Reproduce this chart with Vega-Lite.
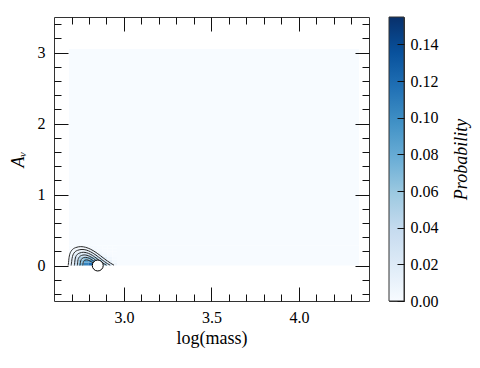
{
  "$schema": "https://vega.github.io/schema/vega-lite/v6.json",
  "background": "white",
  "padding": {"left": 8, "top": 15, "right": 5, "bottom": 5},
  "spacing": 20,
  "bounds": "flush",
  "config": {
    "view": {"stroke": "#333333", "strokeWidth": 1},
    "axis": {
      "grid": false,
      "domain": false,
      "labelFont": "Liberation Serif",
      "labelFontSize": 16,
      "labelColor": "#000000",
      "titleFont": "Liberation Serif",
      "titleFontSize": 18,
      "titleFontWeight": "normal",
      "titleColor": "#000000"
    }
  },
  "datasets": {
    "background": [
      {"x0": 2.686, "x1": 4.343, "y0": 0.28, "y1": 3.05, "p": 0},
      {"x0": 2.96, "x1": 4.343, "y0": 0, "y1": 0.28, "p": 0}
    ],
    "peak": [
      {"x0": 2.686, "x1": 2.713, "y0": 0, "y1": 0.04, "p": 0.014},
      {"x0": 2.713, "x1": 2.741, "y0": 0, "y1": 0.04, "p": 0.040},
      {"x0": 2.741, "x1": 2.768, "y0": 0, "y1": 0.04, "p": 0.075},
      {"x0": 2.768, "x1": 2.796, "y0": 0, "y1": 0.04, "p": 0.105},
      {"x0": 2.796, "x1": 2.823, "y0": 0, "y1": 0.04, "p": 0.120},
      {"x0": 2.823, "x1": 2.850, "y0": 0, "y1": 0.04, "p": 0.112},
      {"x0": 2.850, "x1": 2.878, "y0": 0, "y1": 0.04, "p": 0.088},
      {"x0": 2.878, "x1": 2.905, "y0": 0, "y1": 0.04, "p": 0.055},
      {"x0": 2.905, "x1": 2.933, "y0": 0, "y1": 0.04, "p": 0.025},
      {"x0": 2.933, "x1": 2.960, "y0": 0, "y1": 0.04, "p": 0.007},
      {"x0": 2.686, "x1": 2.713, "y0": 0.04, "y1": 0.08, "p": 0.011},
      {"x0": 2.713, "x1": 2.741, "y0": 0.04, "y1": 0.08, "p": 0.034},
      {"x0": 2.741, "x1": 2.768, "y0": 0.04, "y1": 0.08, "p": 0.064},
      {"x0": 2.768, "x1": 2.796, "y0": 0.04, "y1": 0.08, "p": 0.088},
      {"x0": 2.796, "x1": 2.823, "y0": 0.04, "y1": 0.08, "p": 0.096},
      {"x0": 2.823, "x1": 2.850, "y0": 0.04, "y1": 0.08, "p": 0.084},
      {"x0": 2.850, "x1": 2.878, "y0": 0.04, "y1": 0.08, "p": 0.058},
      {"x0": 2.878, "x1": 2.905, "y0": 0.04, "y1": 0.08, "p": 0.031},
      {"x0": 2.905, "x1": 2.933, "y0": 0.04, "y1": 0.08, "p": 0.012},
      {"x0": 2.933, "x1": 2.960, "y0": 0.04, "y1": 0.08, "p": 0.003},
      {"x0": 2.686, "x1": 2.713, "y0": 0.08, "y1": 0.12, "p": 0.008},
      {"x0": 2.713, "x1": 2.741, "y0": 0.08, "y1": 0.12, "p": 0.028},
      {"x0": 2.741, "x1": 2.768, "y0": 0.08, "y1": 0.12, "p": 0.052},
      {"x0": 2.768, "x1": 2.796, "y0": 0.08, "y1": 0.12, "p": 0.068},
      {"x0": 2.796, "x1": 2.823, "y0": 0.08, "y1": 0.12, "p": 0.068},
      {"x0": 2.823, "x1": 2.850, "y0": 0.08, "y1": 0.12, "p": 0.055},
      {"x0": 2.850, "x1": 2.878, "y0": 0.08, "y1": 0.12, "p": 0.032},
      {"x0": 2.878, "x1": 2.905, "y0": 0.08, "y1": 0.12, "p": 0.015},
      {"x0": 2.905, "x1": 2.933, "y0": 0.08, "y1": 0.12, "p": 0.005},
      {"x0": 2.933, "x1": 2.960, "y0": 0.08, "y1": 0.12, "p": 0.001},
      {"x0": 2.686, "x1": 2.713, "y0": 0.12, "y1": 0.16, "p": 0.005},
      {"x0": 2.713, "x1": 2.741, "y0": 0.12, "y1": 0.16, "p": 0.018},
      {"x0": 2.741, "x1": 2.768, "y0": 0.12, "y1": 0.16, "p": 0.032},
      {"x0": 2.768, "x1": 2.796, "y0": 0.12, "y1": 0.16, "p": 0.040},
      {"x0": 2.796, "x1": 2.823, "y0": 0.12, "y1": 0.16, "p": 0.036},
      {"x0": 2.823, "x1": 2.850, "y0": 0.12, "y1": 0.16, "p": 0.026},
      {"x0": 2.850, "x1": 2.878, "y0": 0.12, "y1": 0.16, "p": 0.012},
      {"x0": 2.878, "x1": 2.905, "y0": 0.12, "y1": 0.16, "p": 0.005},
      {"x0": 2.905, "x1": 2.933, "y0": 0.12, "y1": 0.16, "p": 0.001},
      {"x0": 2.933, "x1": 2.960, "y0": 0.12, "y1": 0.16, "p": 0},
      {"x0": 2.686, "x1": 2.713, "y0": 0.16, "y1": 0.20, "p": 0.003},
      {"x0": 2.713, "x1": 2.741, "y0": 0.16, "y1": 0.20, "p": 0.010},
      {"x0": 2.741, "x1": 2.768, "y0": 0.16, "y1": 0.20, "p": 0.018},
      {"x0": 2.768, "x1": 2.796, "y0": 0.16, "y1": 0.20, "p": 0.020},
      {"x0": 2.796, "x1": 2.823, "y0": 0.16, "y1": 0.20, "p": 0.015},
      {"x0": 2.823, "x1": 2.850, "y0": 0.16, "y1": 0.20, "p": 0.009},
      {"x0": 2.850, "x1": 2.878, "y0": 0.16, "y1": 0.20, "p": 0.004},
      {"x0": 2.878, "x1": 2.905, "y0": 0.16, "y1": 0.20, "p": 0.001},
      {"x0": 2.905, "x1": 2.933, "y0": 0.16, "y1": 0.20, "p": 0},
      {"x0": 2.933, "x1": 2.960, "y0": 0.16, "y1": 0.20, "p": 0},
      {"x0": 2.686, "x1": 2.713, "y0": 0.20, "y1": 0.24, "p": 0.001},
      {"x0": 2.713, "x1": 2.741, "y0": 0.20, "y1": 0.24, "p": 0.005},
      {"x0": 2.741, "x1": 2.768, "y0": 0.20, "y1": 0.24, "p": 0.008},
      {"x0": 2.768, "x1": 2.796, "y0": 0.20, "y1": 0.24, "p": 0.008},
      {"x0": 2.796, "x1": 2.823, "y0": 0.20, "y1": 0.24, "p": 0.006},
      {"x0": 2.823, "x1": 2.850, "y0": 0.20, "y1": 0.24, "p": 0.003},
      {"x0": 2.850, "x1": 2.878, "y0": 0.20, "y1": 0.24, "p": 0.001},
      {"x0": 2.878, "x1": 2.905, "y0": 0.20, "y1": 0.24, "p": 0},
      {"x0": 2.905, "x1": 2.933, "y0": 0.20, "y1": 0.24, "p": 0},
      {"x0": 2.933, "x1": 2.960, "y0": 0.20, "y1": 0.24, "p": 0},
      {"x0": 2.686, "x1": 2.713, "y0": 0.24, "y1": 0.28, "p": 0},
      {"x0": 2.713, "x1": 2.741, "y0": 0.24, "y1": 0.28, "p": 0.002},
      {"x0": 2.741, "x1": 2.768, "y0": 0.24, "y1": 0.28, "p": 0.003},
      {"x0": 2.768, "x1": 2.796, "y0": 0.24, "y1": 0.28, "p": 0.003},
      {"x0": 2.796, "x1": 2.823, "y0": 0.24, "y1": 0.28, "p": 0.002},
      {"x0": 2.823, "x1": 2.850, "y0": 0.24, "y1": 0.28, "p": 0.001},
      {"x0": 2.850, "x1": 2.878, "y0": 0.24, "y1": 0.28, "p": 0},
      {"x0": 2.878, "x1": 2.905, "y0": 0.24, "y1": 0.28, "p": 0},
      {"x0": 2.905, "x1": 2.933, "y0": 0.24, "y1": 0.28, "p": 0},
      {"x0": 2.933, "x1": 2.960, "y0": 0.24, "y1": 0.28, "p": 0}
    ],
    "contours": [
      {"level": 1, "x": 2.681, "y": 0}, {"level": 1, "x": 2.682, "y": 0.018}, {"level": 1, "x": 2.686, "y": 0.112}, {"level": 1, "x": 2.699, "y": 0.206}, {"level": 1, "x": 2.724, "y": 0.252}, {"level": 1, "x": 2.753, "y": 0.266}, {"level": 1, "x": 2.781, "y": 0.256}, {"level": 1, "x": 2.810, "y": 0.228}, {"level": 1, "x": 2.847, "y": 0.172}, {"level": 1, "x": 2.886, "y": 0.098}, {"level": 1, "x": 2.924, "y": 0.032}, {"level": 1, "x": 2.943, "y": 0.004},
      {"level": 2, "x": 2.698, "y": 0}, {"level": 2, "x": 2.699, "y": 0.015}, {"level": 2, "x": 2.703, "y": 0.095}, {"level": 2, "x": 2.714, "y": 0.175}, {"level": 2, "x": 2.735, "y": 0.214}, {"level": 2, "x": 2.760, "y": 0.226}, {"level": 2, "x": 2.784, "y": 0.218}, {"level": 2, "x": 2.808, "y": 0.194}, {"level": 2, "x": 2.840, "y": 0.146}, {"level": 2, "x": 2.873, "y": 0.083}, {"level": 2, "x": 2.905, "y": 0.027}, {"level": 2, "x": 2.921, "y": 0.004},
      {"level": 3, "x": 2.716, "y": 0}, {"level": 3, "x": 2.717, "y": 0.013}, {"level": 3, "x": 2.720, "y": 0.078}, {"level": 3, "x": 2.729, "y": 0.144}, {"level": 3, "x": 2.747, "y": 0.176}, {"level": 3, "x": 2.767, "y": 0.186}, {"level": 3, "x": 2.787, "y": 0.179}, {"level": 3, "x": 2.807, "y": 0.160}, {"level": 3, "x": 2.833, "y": 0.120}, {"level": 3, "x": 2.860, "y": 0.069}, {"level": 3, "x": 2.887, "y": 0.023}, {"level": 3, "x": 2.900, "y": 0.003},
      {"level": 4, "x": 2.733, "y": 0}, {"level": 4, "x": 2.734, "y": 0.010}, {"level": 4, "x": 2.736, "y": 0.063}, {"level": 4, "x": 2.743, "y": 0.115}, {"level": 4, "x": 2.757, "y": 0.141}, {"level": 4, "x": 2.773, "y": 0.149}, {"level": 4, "x": 2.789, "y": 0.143}, {"level": 4, "x": 2.805, "y": 0.128}, {"level": 4, "x": 2.827, "y": 0.096}, {"level": 4, "x": 2.848, "y": 0.055}, {"level": 4, "x": 2.869, "y": 0.018}, {"level": 4, "x": 2.880, "y": 0.002},
      {"level": 5, "x": 2.748, "y": 0}, {"level": 5, "x": 2.749, "y": 0.008}, {"level": 5, "x": 2.751, "y": 0.048}, {"level": 5, "x": 2.757, "y": 0.088}, {"level": 5, "x": 2.767, "y": 0.108}, {"level": 5, "x": 2.780, "y": 0.114}, {"level": 5, "x": 2.792, "y": 0.110}, {"level": 5, "x": 2.804, "y": 0.098}, {"level": 5, "x": 2.820, "y": 0.074}, {"level": 5, "x": 2.837, "y": 0.042}, {"level": 5, "x": 2.853, "y": 0.014}, {"level": 5, "x": 2.861, "y": 0.002},
      {"level": 6, "x": 2.764, "y": 0}, {"level": 6, "x": 2.765, "y": 0.005}, {"level": 6, "x": 2.766, "y": 0.034}, {"level": 6, "x": 2.770, "y": 0.062}, {"level": 6, "x": 2.777, "y": 0.076}, {"level": 6, "x": 2.786, "y": 0.080}, {"level": 6, "x": 2.794, "y": 0.077}, {"level": 6, "x": 2.803, "y": 0.068}, {"level": 6, "x": 2.814, "y": 0.052}, {"level": 6, "x": 2.826, "y": 0.029}, {"level": 6, "x": 2.837, "y": 0.010}, {"level": 6, "x": 2.843, "y": 0.001}
    ],
    "marker": [{"x": 2.85, "y": 0.0}],
    "colorbar": [{"lo": 0, "hi": 0.155}]
  },
  "hconcat": [
    {
      "width": 315,
      "height": 284,
      "resolve": {"axis": {"x": "independent", "y": "independent"}},
      "layer": [
        {
          "data": {"name": "background"},
          "mark": {"type": "rect"},
          "encoding": {
            "x": {"field": "x0", "type": "quantitative", "scale": {"domain": [2.6, 4.4], "nice": false, "zero": false},
              "axis": {"orient": "bottom", "values": [2.7, 2.8, 2.9, 3.0, 3.1, 3.2, 3.3, 3.4, 3.5, 3.6, 3.7, 3.8, 3.9, 4.0, 4.1, 4.2, 4.3],
                "labelExpr": "abs(datum.value * 2 - round(datum.value * 2)) < 0.01 ? format(datum.value, '.1f') : ''",
                "labelOverlap": false, "labelFlush": false, "labelBound": false,
                "tickColor": "#111111", "tickSize": -14,
                "tickDash": {"condition": {"test": "abs(datum.value * 2 - round(datum.value * 2)) > 0.01", "value": [7, 40]}, "value": [20, 20]},
                "labelPadding": 22, "title": "log(mass)", "titlePadding": 4, "zindex": 1}},
            "x2": {"field": "x1"},
            "y": {"field": "y0", "type": "quantitative", "scale": {"domain": [-0.5, 3.5], "nice": false, "zero": false},
              "axis": {"orient": "left", "values": [-0.4, -0.2, 0, 0.2, 0.4, 0.6, 0.8, 1, 1.2, 1.4, 1.6, 1.8, 2, 2.2, 2.4, 2.6, 2.8, 3, 3.2, 3.4],
                "labelExpr": "abs(datum.value - round(datum.value)) < 0.01 ? format(datum.value, 'd') : ''",
                "labelOverlap": false, "labelFlush": false, "labelBound": false,
                "tickColor": "#111111", "tickSize": -14,
                "tickDash": {"condition": {"test": "abs(datum.value - round(datum.value)) > 0.01", "value": [7, 40]}, "value": [20, 20]},
                "labelPadding": 23, "title": "Aᵥ", "titleFontStyle": "italic", "titlePadding": 10, "zindex": 1}},
            "y2": {"field": "y1"},
            "color": {"field": "p", "type": "quantitative", "legend": null,
              "scale": {"type": "linear", "domain": [0, 0.019375, 0.03875, 0.058125, 0.0775, 0.096875, 0.11625, 0.135625, 0.155], "range": ["#f7fbff", "#deebf7", "#c6dbef", "#9ecae1", "#6baed6", "#4292c6", "#2171b5", "#08519c", "#08306b"], "interpolate": "rgb"}}
          }
        },
        {
          "data": {"name": "peak"},
          "mark": {"type": "rect"},
          "encoding": {
            "x": {"field": "x0", "type": "quantitative", "scale": {"domain": [2.6, 4.4], "nice": false, "zero": false}, "axis": null},
            "x2": {"field": "x1"},
            "y": {"field": "y0", "type": "quantitative", "scale": {"domain": [-0.5, 3.5], "nice": false, "zero": false}, "axis": null},
            "y2": {"field": "y1"},
            "color": {"field": "p", "type": "quantitative", "legend": null,
              "scale": {"type": "linear", "domain": [0, 0.019375, 0.03875, 0.058125, 0.0775, 0.096875, 0.11625, 0.135625, 0.155], "range": ["#f7fbff", "#deebf7", "#c6dbef", "#9ecae1", "#6baed6", "#4292c6", "#2171b5", "#08519c", "#08306b"], "interpolate": "rgb"}}
          }
        },
        {
          "data": {"name": "contours"},
          "mark": {"type": "line", "strokeWidth": 1, "stroke": "#2a2a2a", "interpolate": "monotone"},
          "encoding": {
            "x": {"field": "x", "type": "quantitative", "scale": {"domain": [2.6, 4.4], "nice": false, "zero": false}, "axis": null},
            "y": {"field": "y", "type": "quantitative", "scale": {"domain": [-0.5, 3.5], "nice": false, "zero": false}, "axis": null},
            "detail": {"field": "level", "type": "nominal"}
          }
        },
        {
          "data": {"name": "marker"},
          "mark": {"type": "point", "filled": true, "fill": "white", "stroke": "black", "strokeWidth": 1, "opacity": 1, "size": 120},
          "encoding": {
            "x": {"field": "x", "type": "quantitative", "scale": {"domain": [2.6, 4.4], "nice": false, "zero": false},
              "axis": {"orient": "top", "values": [2.7, 2.8, 2.9, 3.0, 3.1, 3.2, 3.3, 3.4, 3.5, 3.6, 3.7, 3.8, 3.9, 4.0, 4.1, 4.2, 4.3],
                "labels": false, "tickColor": "#111111", "tickSize": -14,
                "tickDash": {"condition": {"test": "abs(datum.value * 2 - round(datum.value * 2)) > 0.01", "value": [7, 40]}, "value": [20, 20]},
                "title": null, "zindex": 1}},
            "y": {"field": "y", "type": "quantitative", "scale": {"domain": [-0.5, 3.5], "nice": false, "zero": false},
              "axis": {"orient": "right", "values": [-0.4, -0.2, 0, 0.2, 0.4, 0.6, 0.8, 1, 1.2, 1.4, 1.6, 1.8, 2, 2.2, 2.4, 2.6, 2.8, 3, 3.2, 3.4],
                "labels": false, "tickColor": "#111111", "tickSize": -14,
                "tickDash": {"condition": {"test": "abs(datum.value - round(datum.value)) > 0.01", "value": [7, 40]}, "value": [20, 20]},
                "title": null, "zindex": 1}}
          }
        }
      ]
    },
    {
      "width": 15,
      "height": 284,
      "data": {"name": "colorbar"},
      "mark": {
        "type": "rect",
        "stroke": "#333333",
        "strokeWidth": 1,
        "fill": {
          "gradient": "linear", "x1": 0, "y1": 1, "x2": 0, "y2": 0,
          "stops": [
            {"offset": 0, "color": "#f7fbff"},
            {"offset": 0.125, "color": "#deebf7"},
            {"offset": 0.25, "color": "#c6dbef"},
            {"offset": 0.375, "color": "#9ecae1"},
            {"offset": 0.5, "color": "#6baed6"},
            {"offset": 0.625, "color": "#4292c6"},
            {"offset": 0.75, "color": "#2171b5"},
            {"offset": 0.875, "color": "#08519c"},
            {"offset": 1, "color": "#08306b"}
          ]
        }
      },
      "encoding": {
        "x": {"datum": 0, "type": "quantitative", "scale": {"domain": [0, 1], "nice": false}, "axis": null},
        "x2": {"datum": 1},
        "y": {"field": "lo", "type": "quantitative", "scale": {"domain": [0, 0.155], "nice": false, "zero": false},
          "axis": {"orient": "right", "values": [0, 0.02, 0.04, 0.06, 0.08, 0.1, 0.12, 0.14], "format": ".2f", "tickColor": "#111111", "tickSize": -7, "labelPadding": 13, "labelFlush": false, "title": "Probability", "titleFontStyle": "italic", "titleAngle": 270, "titleBaseline": "top", "titlePadding": 14, "zindex": 1}},
        "y2": {"field": "hi"}
      }
    }
  ]
}
